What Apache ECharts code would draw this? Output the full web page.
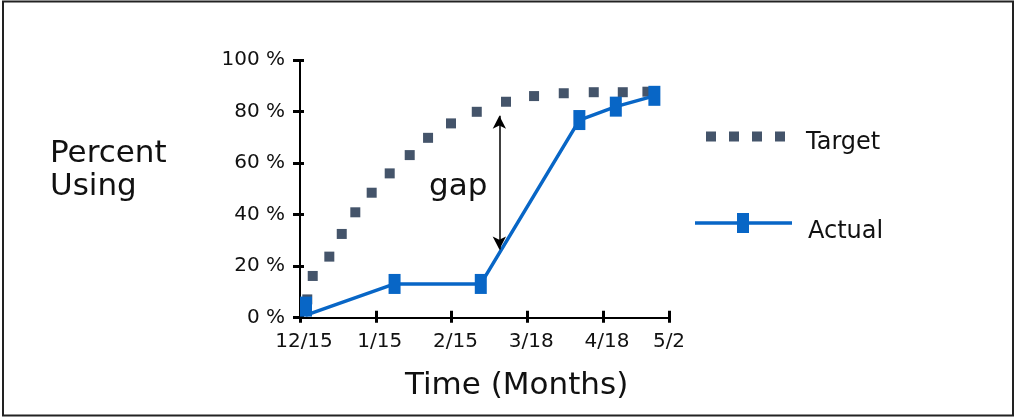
<!DOCTYPE html>
<html><head><meta charset="utf-8">
<script src="https://cdn.jsdelivr.net/npm/echarts@6/dist/echarts.min.js"></script>
<style>html,body{margin:0;padding:0;background:#fff}#c{width:1024px;height:419px}</style>
</head><body><div id="c"></div>
<script>
// x unit: months counted from 12/15 (tick positions 0..4, last tick 5/2)
const tickLabels = ['12/15', '1/15', '2/15', '3/18', '4/18', '5/2'];
const xMax = 4.87;
const yTickLabelSuffix = ' %';

const targetX = [0.096, 0.168, 0.387, 0.551, 0.730, 0.946, 1.184, 1.448, 1.690, 1.993, 2.333, 2.719, 3.089, 3.481, 3.877, 4.260, 4.585];
const targetY = [7.1, 16.2, 23.7, 32.5, 40.9, 48.5, 56.0, 63.1, 69.8, 75.4, 79.9, 83.8, 86.0, 87.1, 87.5, 87.5, 87.7];

const actualX = [0.079, 0.079, 1.248, 2.386, 3.687, 4.168, 4.677];
const actualY = [4.3, 1.0, 13.1, 13.1, 76.7, 81.9, 86.1];
const actualMarker = [true, false, true, true, true, true, true];

const gapX = 2.631;
const gapTop = 78.4;
const gapBottom = 26.5;

const FONT = '"DejaVu Sans", Verdana, sans-serif';
const TARGET_COLOR = '#44546A';
const ACTUAL_COLOR = '#0866C6';

const targetData = targetX.map((x, i) => [x, targetY[i]]);
const actualData = actualX.map((x, i) => actualMarker[i] ? [x, actualY[i]] : { value: [x, actualY[i]], symbol: 'none' });

const chart = echarts.init(document.getElementById('c'), null, { renderer: 'canvas' });

const xCommon = { type: 'value', min: 0, max: xMax, interval: 1, gridIndex: 0, position: 'bottom', splitLine: { show: false } };
const yCommon = { type: 'value', min: 0, max: 100, interval: 20, gridIndex: 0, position: 'left', splitLine: { show: false } };

chart.setOption({
  animation: false,
  backgroundColor: '#fff',
  grid: { left: 300, top: 60, width: 369, height: 257.7, containLabel: false },
  xAxis: [
    Object.assign({}, xCommon, {
      axisLine: { show: true, lineStyle: { color: '#000', width: 2 } },
      axisTick: { show: true, inside: false, length: 5, lineStyle: { color: '#000', width: 3 } },
      axisLabel: {
        show: true, margin: 14, showMinLabel: true, showMaxLabel: true,
        formatter: (v, i) => (i === tickLabels.length - 1 ? '{b|' : '{a|') + tickLabels[i] + '}',
        rich: {
          a: { fontFamily: FONT, fontSize: 20, color: '#111', padding: [0, 0, 0, 8] },
          b: { fontFamily: FONT, fontSize: 20, color: '#111' }
        }
      }
    }),
    Object.assign({}, xCommon, {
      axisLine: { show: false },
      axisTick: { show: true, inside: true, length: 7, lineStyle: { color: '#000', width: 3 } },
      axisLabel: { show: false }
    })
  ],
  yAxis: [
    Object.assign({}, yCommon, {
      axisLine: { show: true, lineStyle: { color: '#000', width: 2 } },
      axisTick: { show: true, inside: false, length: 7, lineStyle: { color: '#000', width: 3 } },
      axisLabel: { show: true, margin: 15, fontFamily: FONT, fontSize: 20, color: '#111', formatter: v => v + yTickLabelSuffix }
    }),
    Object.assign({}, yCommon, {
      axisLine: { show: false },
      axisTick: { show: true, inside: true, length: 4, lineStyle: { color: '#000', width: 3 } },
      axisLabel: { show: false }
    })
  ],
  legend: [
    {
      data: ['Target'], left: 706, top: 131, orient: 'vertical', padding: 0,
      icon: 'path://M0,0h10v10h-10z M23,0h10v10h-10z M46,0h10v10h-10z M69,0h10v10h-10z',
      itemWidth: 79, itemHeight: 10,
      formatter: n => '{t|' + n + '}',
      textStyle: {
        fontFamily: FONT, fontSize: 24, color: '#111', padding: [13, 0, 0, 16],
        rich: { t: { fontFamily: FONT, fontSize: 24, color: '#111' } }
      },
      selectedMode: false
    },
    {
      data: ['Actual'], left: 695, top: 213, orient: 'vertical', padding: 0,
      icon: 'path://M0,8.25h97v3.5h-97z M42,0h12v20h-12z',
      itemWidth: 97, itemHeight: 20,
      formatter: n => '{t|' + n + '}',
      textStyle: {
        fontFamily: FONT, fontSize: 24, color: '#111', padding: [18, 0, 0, 11],
        rich: { t: { fontFamily: FONT, fontSize: 24, color: '#111' } }
      },
      selectedMode: false
    }
  ],
  series: [
    {
      name: 'Target', type: 'line', xAxisIndex: 0, yAxisIndex: 0,
      data: targetData,
      symbol: 'rect', symbolSize: 10,
      itemStyle: { color: TARGET_COLOR },
      lineStyle: { width: 0, opacity: 0 },
      z: 2
    },
    {
      name: 'Actual', type: 'line', xAxisIndex: 0, yAxisIndex: 0,
      data: actualData,
      symbol: 'rect', symbolSize: [12, 20],
      itemStyle: { color: ACTUAL_COLOR },
      lineStyle: { width: 3.5, color: ACTUAL_COLOR },
      z: 3,
      markLine: {
        silent: true,
        symbol: ['arrow', 'arrow'],
        symbolSize: [10, 13],
        label: { show: false },
        lineStyle: { color: '#000', width: 1.5, type: 'solid' },
        emphasis: { disabled: true },
        data: [[{ coord: [gapX, gapTop] }, { coord: [gapX, gapBottom] }]]
      }
    }
  ],
  graphic: [
    { type: 'rect', shape: { x: 3, y: 1.5, width: 1010, height: 414 }, style: { fill: 'none', stroke: '#222', lineWidth: 2 }, silent: true },
    { type: 'text', x: 50, y: 137, style: { text: 'Percent\nUsing', font: '31px ' + FONT, fill: '#111', lineHeight: 33.5 } },
    { type: 'text', x: 405, y: 370, style: { text: 'Time (Months)', font: '31px ' + FONT, fill: '#111' } },
    { type: 'text', x: 429, y: 171, style: { text: 'gap', font: '31px ' + FONT, fill: '#111' } }
  ]
});
</script>
</body></html>
